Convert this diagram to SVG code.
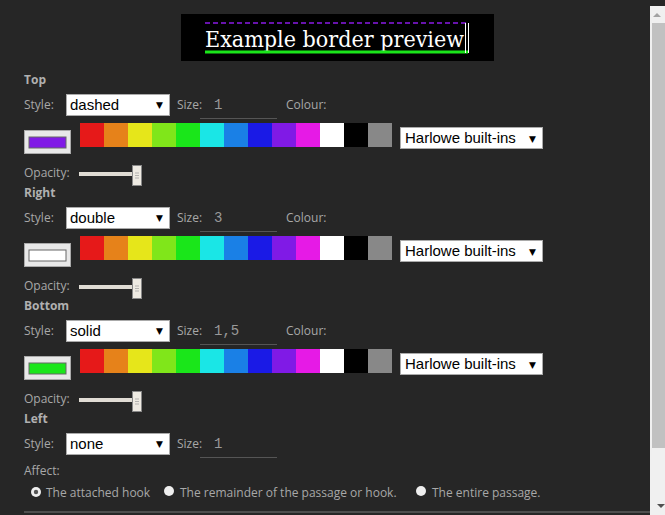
<svg xmlns="http://www.w3.org/2000/svg" width="665" height="515" viewBox="0 0 665 515">
<style>
.l{font-family:"Open Sans",sans-serif;font-size:12px;fill:#a8a8a8}
.h{font-family:"Open Sans",sans-serif;font-size:12px;font-weight:bold;fill:#b0b0b0}
.s{fill:#fff;stroke:#aaa;stroke-width:1}
.st{font-family:"Liberation Sans",Arial,sans-serif;font-size:15px;fill:#000}
.ar{font-family:"DejaVu Sans",sans-serif;font-size:9px;fill:#000}
.in{font-family:"Liberation Mono",monospace;font-size:14px;fill:#999}
.u{stroke:#555;stroke-width:1}
</style>
<defs>
<g id="pal">
<rect x="80" y="123" width="24" height="24" fill="#e61919"/>
<rect x="104" y="123" width="24" height="24" fill="#e6821a"/>
<rect x="128" y="123" width="24" height="24" fill="#e6e61a"/>
<rect x="152" y="123" width="24" height="24" fill="#80e61a"/>
<rect x="176" y="123" width="24" height="24" fill="#1ae61a"/>
<rect x="200" y="123" width="24" height="24" fill="#1ae6e6"/>
<rect x="224" y="123" width="24" height="24" fill="#1a80e6"/>
<rect x="248" y="123" width="24" height="24" fill="#1a1ae6"/>
<rect x="272" y="123" width="24" height="24" fill="#801ae6"/>
<rect x="296" y="123" width="24" height="24" fill="#e61ae6"/>
<rect x="320" y="123" width="24" height="24" fill="#fff"/>
<rect x="344" y="123" width="24" height="24" fill="#000"/>
<rect x="368" y="123" width="24" height="24" fill="#888"/>
<rect x="400.5" y="127.5" width="142" height="21" class="s"/>
<text x="405" y="143" class="st">Harlowe built-ins</text>
<text x="529" y="142" class="ar">▼</text>
<rect x="24.5" y="130.5" width="46" height="23" fill="#e8e8e8" stroke="#aaa"/>
<text x="24" y="177" class="l">Opacity:</text>
<rect x="79" y="172" width="56" height="4" fill="#e0dcd4"/>
<rect x="132.5" y="165.5" width="9" height="20" fill="#eeeae2" stroke="#888"/>
<path d="M135 173h4M135 175.5h4M135 178h4" stroke="#999" stroke-width="0.7"/>
</g>
<g id="sty">
<text x="24" y="109" class="l">Style:</text>
<rect x="66.5" y="94.5" width="103" height="21" class="s"/>
<text x="177" y="109" class="l">Size:</text>
<line x1="200" y1="118.5" x2="277" y2="118.5" class="u"/>
<text x="156" y="108" class="ar">▼</text>
</g>
</defs>
<rect width="665" height="515" fill="#262626"/>
<g id="preview">
<rect x="181" y="14" width="313" height="47" fill="#000"/>
<line x1="205" y1="23" x2="468" y2="23" stroke="#8a1ae6" stroke-width="1.5" stroke-dasharray="5,3"/>
<text x="205" y="47" font-family="'DejaVu Serif',Georgia,serif" font-size="22" fill="#fff" textLength="259" lengthAdjust="spacingAndGlyphs">Example border preview</text>
<line x1="205" y1="52" x2="468" y2="52" stroke="#1ae61a" stroke-width="3"/>
<line x1="465.5" y1="23" x2="465.5" y2="53" stroke="#fff"/>
<line x1="468.5" y1="23" x2="468.5" y2="53" stroke="#fff"/>
</g>
<g id="top">
<text x="24" y="84" class="h">Top</text>
<use href="#sty"/>
<text x="70" y="110" class="st">dashed</text>
<text x="214" y="109" class="in">1</text>
<text x="286" y="109" class="l">Colour:</text>
<use href="#pal"/>
<rect x="29" y="137" width="37" height="11" fill="#801ae6" stroke="#666"/>
</g>
<g id="right" transform="translate(0,113)">
<text x="24" y="84" class="h">Right</text>
<use href="#sty"/>
<text x="70" y="110" class="st">double</text>
<text x="214" y="109" class="in">3</text>
<text x="286" y="109" class="l">Colour:</text>
<use href="#pal"/>
<rect x="29" y="137" width="37" height="11" fill="#fff" stroke="#666"/>
</g>
<g id="bottom" transform="translate(0,226)">
<text x="24" y="84" class="h">Bottom</text>
<use href="#sty"/>
<text x="70" y="110" class="st">solid</text>
<text x="214" y="109" class="in">1,5</text>
<text x="286" y="109" class="l">Colour:</text>
<use href="#pal"/>
<rect x="29" y="137" width="37" height="11" fill="#1ae61a" stroke="#666"/>
</g>
<g id="left" transform="translate(0,339)">
<text x="24" y="84" class="h">Left</text>
<use href="#sty"/>
<text x="70" y="110" class="st">none</text>
<text x="214" y="109" class="in">1</text>
</g>
<g id="affect">
<text x="24" y="475" class="l">Affect:</text>
<circle cx="36" cy="492" r="5" fill="#eee"/>
<circle cx="36" cy="492" r="2.2" fill="#555"/>
<text x="46" y="497" class="l">The attached hook</text>
<circle cx="169" cy="491" r="5" fill="#eee"/>
<text x="180" y="497" class="l">The remainder of the passage or hook.</text>
<circle cx="421" cy="491" r="5" fill="#eee"/>
<text x="432" y="497" class="l">The entire passage.</text>
<line x1="24" y1="512" x2="650" y2="512" stroke="#777"/>
</g>
<g id="scrollbar">
<rect x="650" y="6" width="15" height="509" fill="#f0f0f0"/>
<rect x="652" y="23" width="13" height="425" fill="#c1c1c1"/>
<path d="M653 17l4-4 4 4z" fill="#a3a3a3"/>
<path d="M657 508l4-4h-8z" fill="#505050" transform="translate(4,0)"/>
</g>
</svg>
